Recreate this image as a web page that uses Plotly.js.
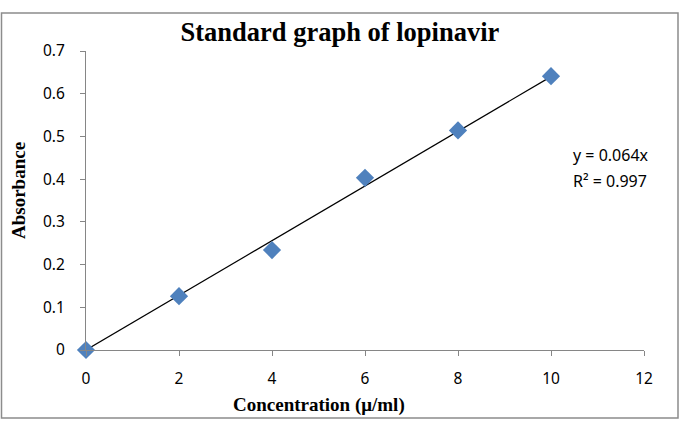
<!DOCTYPE html>
<html>
<head>
<meta charset="utf-8">
<script src="https://cdn.plot.ly/plotly-3.0.1.min.js"></script>
<style>
  html, body { margin: 0; padding: 0; background: #fff; }
  #chart { width: 684px; height: 422px; }
</style>
</head>
<body>
<div id="chart"></div>
<script>
// Calibration data for lopinavir
const concentration = [0, 2, 4, 6, 8, 10];
const absorbance = [0, 0.126, 0.234, 0.403, 0.514, 0.641];

// Linear fit through origin
const slope = 0.064;
const rSquared = 0.997;
const fitRange = [0, 10];

const xTicks = [0, 2, 4, 6, 8, 10, 12];
const yTicks = [0, 0.1, 0.2, 0.3, 0.4, 0.5, 0.6, 0.7];

const sansFamily = 'Noto Sans, Open Sans, sans-serif';
const serifFamily = 'Liberation Serif, Times New Roman, serif';
const tickFont = { family: sansFamily, size: 15.5, color: '#000' };
const axisTitleFont = { family: serifFamily, size: 19, color: '#000' };

// plot-area geometry in pixels, used to place paper-referenced items
const L = 86, R = 644, T = 51, B = 350;
const px = x => (x - L) / (R - L);
const py = y => (B - y) / (B - T);

const fitTrace = {
  x: fitRange,
  y: fitRange.map(v => slope * v),
  mode: 'lines',
  line: { color: '#000', width: 1.2 },
  hoverinfo: 'skip',
  showlegend: false,
  cliponaxis: false
};

const pointTrace = {
  x: concentration,
  y: absorbance,
  mode: 'markers',
  marker: { symbol: 'diamond', size: 14, color: '#4f81bd', line: { width: 0 } },
  showlegend: false,
  cliponaxis: false
};

const layout = {
  width: 684,
  height: 422,
  margin: { l: L, r: 684 - R, t: T, b: 422 - B },
  paper_bgcolor: '#fff',
  plot_bgcolor: '#fff',
  showlegend: false,
  title: {
    text: '<b>Standard graph of lopinavir</b>',
    font: { family: serifFamily, size: 26.5, color: '#000' },
    x: 0.497, xanchor: 'center',
    y: 0.926, yanchor: 'middle'
  },
  xaxis: {
    range: [0, 12],
    tickvals: xTicks,
    ticktext: xTicks.map(String),
    showgrid: false,
    zeroline: false,
    showline: true,
    linecolor: '#868686',
    linewidth: 1,
    ticks: 'outside',
    ticklen: 5,
    tickcolor: '#868686',
    tickfont: tickFont,
    ticklabelstandoff: 9,
    fixedrange: true
  },
  yaxis: {
    range: [0, 0.7],
    tickvals: yTicks,
    ticktext: yTicks.map(v => v === 0 ? '0' : v.toFixed(1)),
    showgrid: false,
    zeroline: false,
    showline: true,
    linecolor: '#868686',
    linewidth: 1,
    ticks: 'outside',
    ticklen: 5,
    tickcolor: '#868686',
    tickfont: tickFont,
    ticklabelstandoff: 12,
    fixedrange: true
  },
  annotations: [
    {
      xref: 'paper', yref: 'paper',
      x: px(318.5), y: py(405),
      xanchor: 'center', yanchor: 'middle',
      text: '<b>Concentration (μ/ml)</b>',
      font: axisTitleFont,
      showarrow: false
    },
    {
      xref: 'paper', yref: 'paper',
      x: px(18), y: py(191),
      xanchor: 'center', yanchor: 'middle',
      textangle: -90,
      text: '<b>Absorbance</b>',
      font: axisTitleFont,
      showarrow: false
    },
    {
      xref: 'paper', yref: 'paper',
      x: px(571), y: py(155),
      xanchor: 'left', yanchor: 'middle',
      text: 'y = ' + slope.toFixed(3) + 'x',
      font: { family: sansFamily, size: 16, color: '#000' },
      showarrow: false
    },
    {
      xref: 'paper', yref: 'paper',
      x: px(571), y: py(181),
      xanchor: 'left', yanchor: 'middle',
      text: 'R² = ' + rSquared.toFixed(3),
      font: { family: sansFamily, size: 16, color: '#000' },
      showarrow: false
    }
  ],
  shapes: [
    {
      type: 'rect', xref: 'paper', yref: 'paper',
      x0: px(1.5), x1: px(678),
      y0: py(418), y1: py(13),
      line: { color: '#8c8c8c', width: 1.5 },
      fillcolor: 'rgba(0,0,0,0)',
      layer: 'below'
    }
  ]
};

Plotly.newPlot('chart', [fitTrace, pointTrace], layout, { displayModeBar: false, staticPlot: true });
</script>
</body>
</html>
